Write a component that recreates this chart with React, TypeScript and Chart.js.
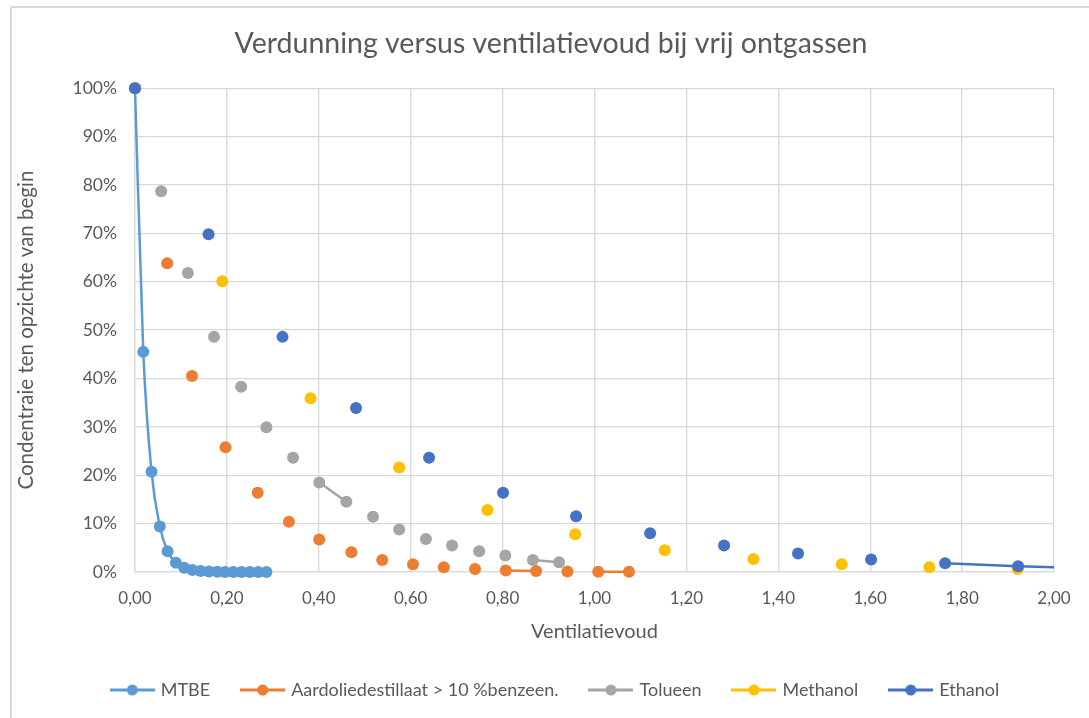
import React, { useEffect, useRef } from "react";
import { Chart, registerables } from "chart.js";

Chart.register(...registerables);

const FONT = "Lato";
const TEXT = "#595959";
const GRID = "#D9D9D9";

const titleText = "Verdunning versus ventilatievoud bij vrij ontgassen";
const xTitle = "Ventilatievoud";
const yTitle = "Condentraie ten opzichte van begin";

const seriesNames = ["MTBE", "Aardoliedestillaat > 10 %benzeen.", "Tolueen", "Methanol", "Ethanol"];
const seriesColors = ["#5B9BD5", "#ED7D31", "#A5A5A5", "#FFC000", "#4472C4"];

const mtbeX = [0, 0.018, 0.036, 0.054, 0.071, 0.089, 0.107, 0.125, 0.143, 0.161, 0.179, 0.196, 0.214, 0.232, 0.25, 0.268, 0.286];
const mtbeY = [1, 0.455, 0.207, 0.094, 0.043, 0.019, 0.009, 0.004, 0.002, 0.001, 0.0004, 0.0002, 0.0001, 0, 0, 0, 0];

const aardX = [0, 0.07, 0.124, 0.197, 0.267, 0.335, 0.401, 0.471, 0.538, 0.605, 0.672, 0.74, 0.807, 0.873, 0.941, 1.008, 1.075];
const aardY = [1, 0.638, 0.405, 0.258, 0.164, 0.104, 0.067, 0.041, 0.025, 0.016, 0.01, 0.006, 0.003, 0.002, 0.001, 0.0005, 0.0003];

const tolX = [0, 0.057, 0.115, 0.172, 0.231, 0.286, 0.344, 0.401, 0.46, 0.518, 0.575, 0.633, 0.69, 0.749, 0.806, 0.866, 0.923];
const tolY = [1, 0.787, 0.618, 0.486, 0.383, 0.299, 0.236, 0.185, 0.145, 0.114, 0.088, 0.068, 0.055, 0.043, 0.034, 0.025, 0.02];

const metX = [0, 0.19, 0.382, 0.575, 0.767, 0.958, 1.153, 1.346, 1.538, 1.729, 1.921];
const metY = [1, 0.601, 0.359, 0.216, 0.128, 0.078, 0.045, 0.027, 0.016, 0.01, 0.006];

const ethX = [0, 0.16, 0.321, 0.481, 0.64, 0.801, 0.96, 1.121, 1.282, 1.443, 1.602, 1.763, 1.922, 2.083];
const ethY = [1, 0.698, 0.486, 0.339, 0.236, 0.164, 0.115, 0.08, 0.055, 0.038, 0.026, 0.018, 0.012, 0.008];

// indices of points whose segment to the next point is drawn as a line
const mtbeLinked = mtbeX.map((_, i) => i);
const aardLinked = [12, 15];
const tolLinked = [7, 15];
const metLinked: number[] = [];
const ethLinked = [11, 12];

const xTicks = [0, 0.2, 0.4, 0.6, 0.8, 1.0, 1.2, 1.4, 1.6, 1.8, 2.0];
const yTicks = [0, 0.1, 0.2, 0.3, 0.4, 0.5, 0.6, 0.7, 0.8, 0.9, 1.0];

function legendIcon(color: string): HTMLCanvasElement {
  const c = document.createElement("canvas");
  c.width = 45;
  c.height = 14;
  const g = c.getContext("2d")!;
  g.strokeStyle = color;
  g.lineWidth = 3;
  g.beginPath();
  g.moveTo(0, 7);
  g.lineTo(45, 7);
  g.stroke();
  g.fillStyle = color;
  g.beginPath();
  g.arc(22.5, 7, 5.5, 0, Math.PI * 2);
  g.fill();
  return c;
}

function makeDataset(i: number, xs: number[], ys: number[], linked: number[], smooth: boolean) {
  const color = seriesColors[i];
  return {
    label: seriesNames[i],
    data: xs.map((x, k) => ({ x, y: ys[k] })),
    showLine: true,
    borderColor: color,
    backgroundColor: color,
    borderWidth: 2.5,
    pointRadius: 6,
    pointHoverRadius: 6,
    pointBorderWidth: 0,
    pointBackgroundColor: color,
    cubicInterpolationMode: smooth ? "monotone" : "default",
    tension: 0,
    order: 10 - i,
    clip: { left: 10, top: 10, right: 0, bottom: 10 },
    segment: {
      borderColor: (ctx: any) => (linked.includes(ctx.p0DataIndex) ? color : "rgba(0,0,0,0)"),
    },
  };
}

// The original chart frame is wider than the visible picture: title and legend sit a bit right of centre.
const shiftBlocks = {
  id: "shiftBlocks",
  afterLayout(chart: any) {
    const t = chart.titleBlock;
    if (t) {
      t.left += 18;
      t.right += 18;
    }
    const l = chart.legend;
    if (l) {
      l.left += 23;
      l.right += 23;
    }
  },
};

export default function App() {
  const ref = useRef<HTMLCanvasElement | null>(null);

  useEffect(() => {
    if (!ref.current) return;
    const icons = seriesColors.map(legendIcon);
    const chart = new Chart(ref.current, {
      type: "scatter",
      data: {
        datasets: [
          makeDataset(0, mtbeX, mtbeY, mtbeLinked, true),
          makeDataset(1, aardX, aardY, aardLinked, false),
          makeDataset(2, tolX, tolY, tolLinked, false),
          makeDataset(3, metX, metY, metLinked, false),
          makeDataset(4, ethX, ethY, ethLinked, false),
        ] as any,
      },
      plugins: [shiftBlocks],
      options: {
        responsive: false,
        animation: false,
        layout: { padding: { left: 12, right: 35, top: 0, bottom: 9 } },
        plugins: {
          tooltip: { enabled: false },
          title: {
            display: true,
            text: titleText,
            color: TEXT,
            font: { family: FONT, size: 28.5, weight: "normal" },
            padding: { top: 27, bottom: 27 },
          },
          legend: {
            position: "bottom",
            labels: {
              usePointStyle: true,
              pointStyleWidth: 39,
              padding: 33,
              color: TEXT,
              font: { family: FONT, size: 18 },
              sort: (a: any, b: any) => a.datasetIndex - b.datasetIndex,
              generateLabels: (ch: any) => {
                const items = (Chart as any).defaults.plugins.legend.labels.generateLabels(ch);
                return items.map((it: any) => ({ ...it, pointStyle: icons[it.datasetIndex] }));
              },
            },
          },
        },
        scales: {
          x: {
            type: "linear",
            min: 0,
            max: 2,
            afterBuildTicks: (s: any) => {
              s.ticks = xTicks.map((v) => ({ value: v }));
            },
            afterFit: (s: any) => {
              s.height = 76;
            },
            ticks: {
              color: TEXT,
              font: { family: FONT, size: 17 },
              padding: 16,
              callback: (v: any) => Number(v).toFixed(2).replace(".", ","),
            },
            grid: { color: GRID, drawTicks: false, lineWidth: 1.3 },
            border: { color: GRID, width: 1.3 },
            title: {
              display: true,
              text: xTitle,
              color: TEXT,
              font: { family: FONT, size: 20 },
              padding: { top: 0, bottom: 4 },
            },
          },
          y: {
            type: "linear",
            min: 0,
            max: 1,
            afterBuildTicks: (s: any) => {
              s.ticks = yTicks.map((v) => ({ value: v }));
            },
            afterFit: (s: any) => {
              s.width = 123;
            },
            ticks: {
              color: TEXT,
              font: { family: FONT, size: 17.5 },
              padding: 18,
              callback: (v: any) => Math.round(Number(v) * 100) + "%",
            },
            grid: { color: GRID, drawTicks: false, lineWidth: 1.3 },
            border: { color: GRID, width: 1.3 },
            title: {
              display: true,
              text: yTitle,
              color: TEXT,
              font: { family: FONT, size: 20.5 },
              padding: { top: 2, bottom: 0 },
            },
          },
        },
      } as any,
    });
    return () => chart.destroy();
  }, []);

  return (
    <div
      style={{
        position: "fixed",
        left: 0,
        top: 0,
        width: 1089,
        height: 718,
        overflow: "hidden",
        background: "#fff",
      }}
    >
      <div
        style={{
          position: "absolute",
          left: 10,
          top: 6,
          width: 1200,
          height: 800,
          border: "2px solid #D9D9D9",
          boxSizing: "border-box",
        }}
      />
      <canvas
        ref={ref}
        width={1089}
        height={718}
        style={{ position: "absolute", left: 0, top: 0, width: 1089, height: 718 }}
      />
    </div>
  );
}
